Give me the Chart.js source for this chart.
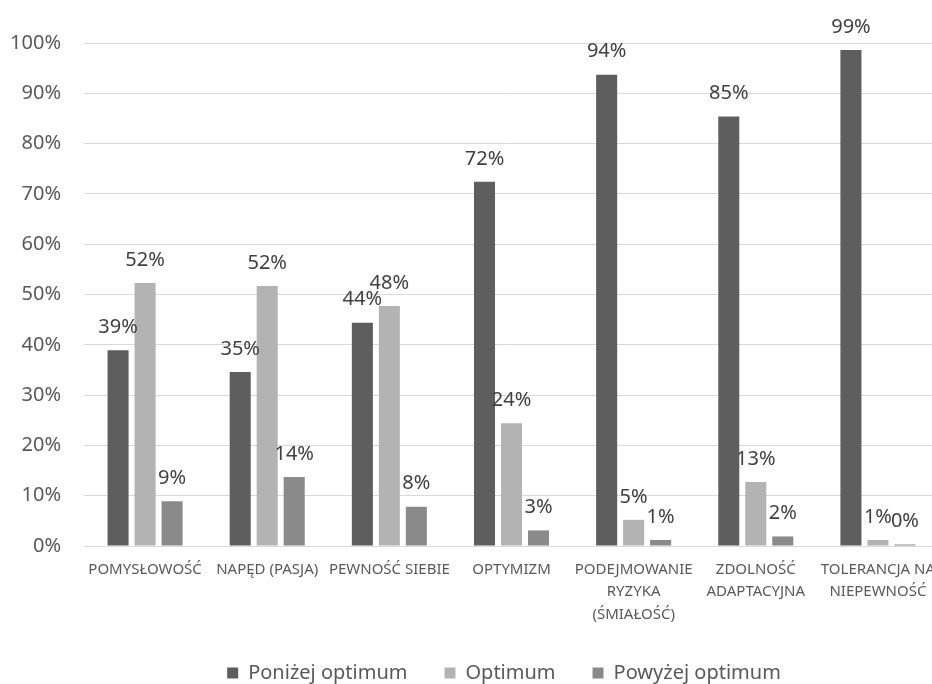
<!DOCTYPE html>
<html>
<head>
<meta charset="utf-8">
<script src="https://cdn.jsdelivr.net/npm/chart.js@4/dist/chart.umd.min.js"></script>
<style>
  html, body { margin: 0; padding: 0; background: #fff; overflow: hidden; }
  #wrap { width: 1010px; height: 684px; position: relative; }
</style>
</head>
<body>
<div id="wrap"><canvas id="c"></canvas></div>
<script>
const categories = [
  "POMYSŁOWOŚĆ",
  "NAPĘD (PASJA)",
  "PEWNOŚĆ SIEBIE",
  "OPTYMIZM",
  ["PODEJMOWANIE", "RYZYKA", "(ŚMIAŁOŚĆ)"],
  ["ZDOLNOŚĆ", "ADAPTACYJNA"],
  ["TOLERANCJA NA", "NIEPEWNOŚĆ"],
];
const seriesNames = ["Poniżej optimum", "Optimum", "Powyżej optimum"];
const ponizej = [38.9, 34.6, 44.4, 72.4, 93.7, 85.4, 98.6];
const optimum = [52.3, 51.7, 47.7, 24.4, 5.2, 12.7, 1.2];
const powyzej = [8.9, 13.7, 7.8, 3.1, 1.2, 1.9, 0.3];
const yTicks = [0, 10, 20, 30, 40, 50, 60, 70, 80, 90, 100];

const FONT = '"Noto Sans", sans-serif';
const colors = ["#5e5e5e", "#b3b3b3", "#8a8a8a"];

// etykiety wartości nad słupkami
const barLabels = {
  id: "barLabels",
  afterDatasetsDraw(chart) {
    const ctx = chart.ctx;
    ctx.save();
    ctx.font = "20px " + FONT;
    ctx.fillStyle = "#404040";
    ctx.textAlign = "center";
    ctx.textBaseline = "middle";
    chart.data.datasets.forEach((ds, i) => {
      chart.getDatasetMeta(i).data.forEach((bar, j) => {
        ctx.fillText(Math.round(ds.data[j]) + "%", bar.x, bar.y - 23);
      });
    });
    ctx.restore();
  },
};

// legenda: niższa niż domyślnie, wyśrodkowana jak w oryginale
const legendPlace = {
  id: "legendPlace",
  beforeInit(chart) {
    const fit = chart.legend.fit;
    chart.legend.fit = function () { fit.call(this); this.height -= 9; };
  },
  afterLayout(chart) {
    const lg = chart.legend;
    const dx = 504 - (lg.left + lg.right) / 2;
    lg.left += dx; lg.right += dx;
  },
};

const mkSet = (label, data, color) => ({
  label, data,
  backgroundColor: color,
  borderWidth: 0,
  categoryPercentage: 0.663,
  barPercentage: 0.78,
});

new Chart(document.getElementById("c"), {
  type: "bar",
  data: {
    labels: categories,
    datasets: [
      mkSet(seriesNames[0], ponizej, colors[0]),
      mkSet(seriesNames[1], optimum, colors[1]),
      mkSet(seriesNames[2], powyzej, colors[2]),
    ],
  },
  options: {
    responsive: true, maintainAspectRatio: false, animation: false,
    layout: { padding: { left: 11, right: 71, top: 43, bottom: 0 } },
    plugins: {
      tooltip: { enabled: false },
      legend: {
        position: "bottom",
        labels: {
          color: "#595959",
          font: { family: FONT, size: 20 },
          boxWidth: 11, boxHeight: 11,
          padding: 37,
        },
      },
    },
    scales: {
      x: {
        afterFit: (s) => { s.height = 80; },
        grid: { display: false },
        border: { color: "#d9d9d9" },
        ticks: {
          color: "#595959", autoSkip: false, maxRotation: 0, padding: 4,
          font: { family: FONT, size: 15, lineHeight: 1.5 },
        },
      },
      y: {
        min: 0, max: 100,
        afterFit: (s) => { s.width = 73; },
        afterBuildTicks: (axis) => { axis.ticks = yTicks.map((v) => ({ value: v })); },
        grid: { color: "#d9d9d9", drawTicks: false },
        border: { display: false },
        ticks: {
          color: "#595959", padding: 23,
          font: { family: FONT, size: 20 },
          callback: (v) => v + "%",
        },
      },
    },
  },
  plugins: [barLabels, legendPlace],
});
</script>
</body>
</html>
